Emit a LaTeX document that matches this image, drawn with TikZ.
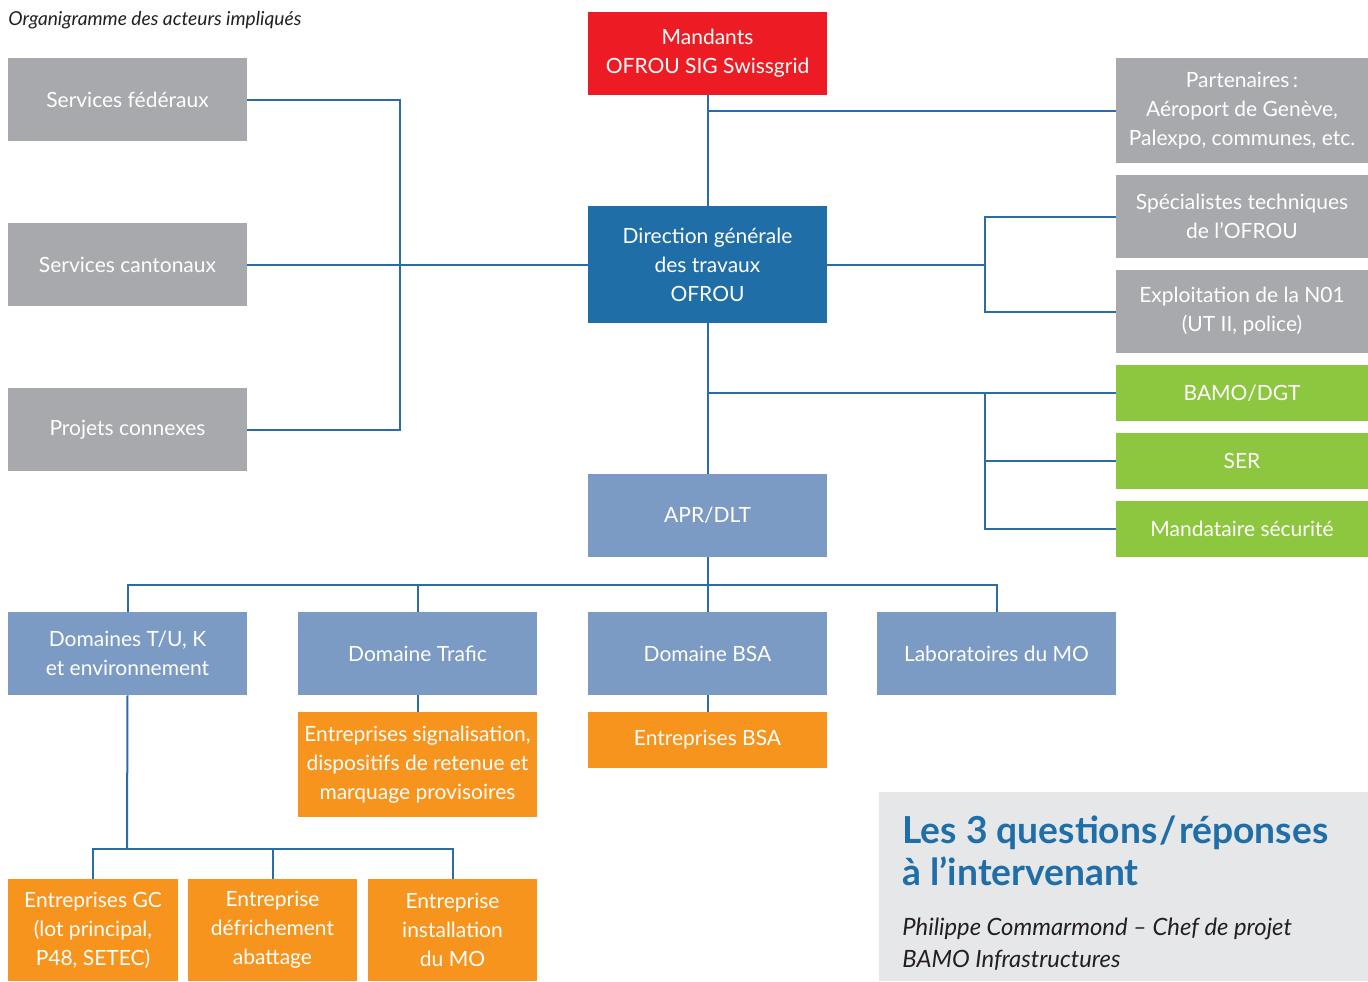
\documentclass[tikz,border=0pt]{standalone}
\usepackage{fontspec}
\setmainfont{Lato}
\usetikzlibrary{positioning,calc}
\definecolor{mandred}{HTML}{ED1C24}
\definecolor{boxgray}{HTML}{A7A9AC}
\definecolor{dirblue}{HTML}{1F6EA8}
\definecolor{lightblue}{HTML}{7B9BC4}
\definecolor{boxgreen}{HTML}{8DC63F}
\definecolor{boxorange}{HTML}{F7941D}
\definecolor{linkblue}{HTML}{2B6CA8}
\definecolor{infogray}{HTML}{E6E7E8}
\definecolor{textdark}{HTML}{231F20}

\begin{document}
\begin{tikzpicture}[x=0.5pt,y=-0.5pt]
        \tikzstyle{actor}=[text=white, inner sep=0pt, align=center, font=\fontsize{10.5}{14.5}\selectfont]
        \tikzstyle{wide}=[actor, minimum width=119.5pt, minimum height=41.5pt]
        \tikzstyle{link}=[linkblue, line width=1pt]
        \useasboundingbox (0,0) rectangle (1368,981);

        % Title
        \node[anchor=west, inner sep=0pt, text=textdark, font=\fontsize{9.6}{11}\selectfont\itshape] (title) at (8,20) {Organigramme des acteurs impliqués};

        % Left column
        \node[wide, fill=boxgray] (fed) at (127.5,99.5) {Services fédéraux};
        \node[wide, fill=boxgray] (cant) at (127.5,264.5) {Services cantonaux};
        \node[wide, fill=boxgray] (conn) at (127.5,429.5) {Projets connexes};

        % Centre column
        \node[wide, fill=mandred] (mand) at (707.5,53.5) {Mandants\\OFROU SIG Swissgrid};
        \node[wide, fill=dirblue, minimum height=58.5pt] (dir) at (707.5,264.5) {Direction générale\\des travaux\\OFROU};
        \node[wide, fill=lightblue] (apr) at (707.5,515.5) {APR/DLT};

        % Right column
        \node[actor, fill=boxgray, minimum width=126pt, minimum height=52.5pt] (part) at (1242,110.5) {Partenaires\,:\\Aéroport de Genève,\\Palexpo, communes, etc.};
        \node[actor, fill=boxgray, minimum width=126pt, minimum height=41.5pt] (spec) at (1242,216.5) {Spécialistes techniques\\de l’OFROU};
        \node[actor, fill=boxgray, minimum width=126pt, minimum height=41.5pt] (expl) at (1242,311.5) {Exploitation de la N01\\(UT II, police)};
        \node[actor, fill=boxgreen, minimum width=126pt, minimum height=28pt] (bamo) at (1242,393) {BAMO/DGT};
        \node[actor, fill=boxgreen, minimum width=126pt, minimum height=28pt] (ser) at (1242,461) {SER};
        \node[actor, fill=boxgreen, minimum width=126pt, minimum height=28pt] (msec) at (1242,529) {Mandataire sécurité};

        % Domaines
        \node[wide, fill=lightblue] (dtu) at (127.5,653.5) {Domaines T/U, K\\et environnement};
        \node[wide, fill=lightblue] (dtraf) at (417.5,653.5) {Domaine Trafic};
        \node[wide, fill=lightblue] (dbsa) at (707.5,653.5) {Domaine BSA};
        \node[wide, fill=lightblue] (lab) at (996.5,653.5) {Laboratoires du MO};

        % Entreprises
        \node[wide, fill=boxorange, minimum height=52.5pt] (esig) at (417.5,764.5) {Entreprises signalisation,\\dispositifs de retenue et\\marquage provisoires};
        \node[wide, fill=boxorange, minimum height=28pt] (ebsa) at (707.5,740) {Entreprises BSA};
        \node[actor, fill=boxorange, minimum width=85pt, minimum height=51pt] (egc) at (93,930) {Entreprises GC\\(lot principal,\\P48, SETEC)};
        \node[actor, fill=boxorange, minimum width=84.5pt, minimum height=51pt] (edef) at (272.5,930) {Entreprise\\défrichement\\abattage};
        \node[actor, fill=boxorange, minimum width=84.5pt, minimum height=51pt] (einst) at (452.5,930) {Entreprise\\installation\\du MO};

        % Info box
        \fill[infogray] (879,792) rectangle (1368,981);
        \node[anchor=north west, inner sep=0pt, align=left, text=dirblue, font=\fontsize{18.6}{21}\selectfont\bfseries] (quest) at (902,815) {Les 3 questions\kern1pt/\kern1pt réponses\\à l’intervenant};
        \node[anchor=north west, inner sep=0pt, align=left, text=textdark, font=\fontsize{11.9}{16}\selectfont\itshape] (who) at (902,918) {Philippe Commarmond – Chef de projet\\BAMO Infrastructures};

        % Bus points
        \coordinate (lbus) at (400,264);
        \coordinate (rx) at (985,0);
        \coordinate (dbus) at (707,585);
        \coordinate (gbus) at (127,849);

        % Connectors
        \draw[link] (mand.south) -- (dir.north);
        \draw[link] (part.west) -- (part.west -| mand.south);
        \draw[link] (fed.east) -| (lbus) |- (conn.east);
        \draw[link] (cant.east) -- (dir.west);
        \draw[link] (dir.east) -- (dir.east -| rx);
        \draw[link] (spec.west) -| (spec.west -| rx) |- (expl.west);
        \draw[link] (dir.south) -- (apr.north);
        \draw[link] (bamo.west) -- (bamo.west -| dir.south);
        \draw[link] (bamo.west -| rx) |- (msec.west);
        \draw[link] (ser.west) -- (ser.west -| rx);
        \draw[link] (apr.south) -- (dbsa.north);
        \draw[link] (dtu.north) |- (dbus) -| (lab.north);
        \draw[link] (dtraf.north) -- (dtraf.north |- dbus);
        \draw[link] (dtraf.south) -- (esig.north);
        \draw[link] (dbsa.south) -- (ebsa.north);
        \draw[link] (dtu.south) -- (gbus);
        \draw[link] (egc.north) |- (gbus) -| (einst.north);
        \draw[link] (edef.north) -- (edef.north |- gbus);
    \end{tikzpicture}
\end{document}
